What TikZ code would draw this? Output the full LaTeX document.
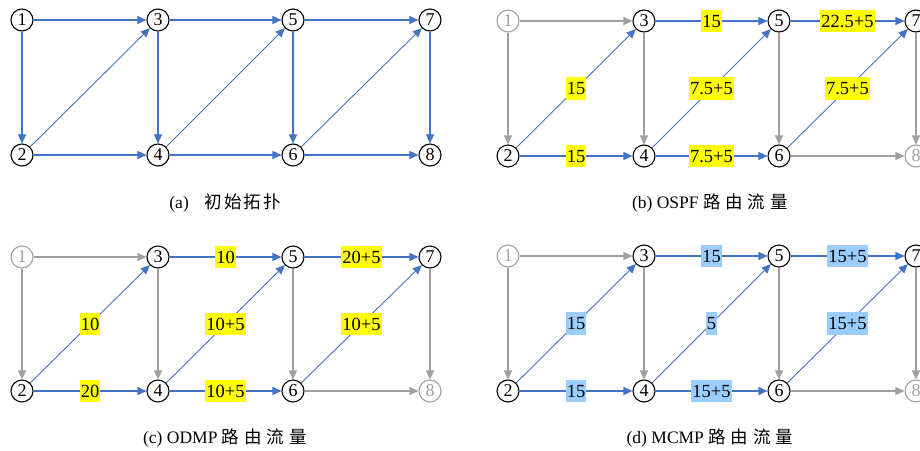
\documentclass[tikz,border=0pt]{standalone}
\usepackage{fontspec}
\setmainfont{Liberation Serif}
\newfontfamily\cjk{Noto Sans CJK SC}
\usetikzlibrary{arrows.meta}
\definecolor{eblue}{RGB}{68,114,196}
\definecolor{egray}{RGB}{160,160,160}
\definecolor{yel}{RGB}{255,255,0}
\definecolor{lblue}{RGB}{153,204,255}
\tikzset{
  nd/.style={circle,draw=black,line width=1.1pt,minimum size=22pt,inner sep=0pt,fill=white,font=\fontsize{18}{18}\selectfont},
  ndoff/.style={nd,draw=egray,text=egray},
  hv/.style={line width=1.3pt,-{Triangle[length=9pt,width=8pt]}},
  dg/.style={line width=0.9pt,-{Triangle[length=9pt,width=8pt]}},
  eon/.style={draw=eblue},
  eoff/.style={draw=egray},
  ylab/.style={fill=yel,inner xsep=1.2pt,inner ysep=5pt,text height=12.5pt,text depth=0pt,font=\fontsize{18.5}{19}\selectfont},
  blab/.style={ylab,fill=lblue},
  captext/.style={font=\fontsize{17.5}{20}\selectfont,inner sep=0pt}
}
\begin{document}
\begin{tikzpicture}[x=1pt,y=-1pt]
\useasboundingbox (0,0) rectangle (920,450);
\fill[white] (0,0) rectangle (920,450);
% ---------- (a)
\begin{scope}
\node[nd] (a1) at (22,20) {1};
\node[nd] (a2) at (22,155) {2};
\node[nd] (a3) at (158,20) {3};
\node[nd] (a4) at (158,155) {4};
\node[nd] (a5) at (293,20) {5};
\node[nd] (a6) at (293,155) {6};
\node[nd] (a7) at (430,20) {7};
\node[nd] (a8) at (430,155) {8};
\draw[hv,eon] (a1) -- (a3);
\draw[hv,eon] (a3) -- (a5);
\draw[hv,eon] (a5) -- (a7);
\draw[hv,eon] (a2) -- (a4);
\draw[hv,eon] (a4) -- (a6);
\draw[hv,eon] (a6) -- (a8);
\draw[hv,eon] (a1) -- (a2);
\draw[hv,eon] (a3) -- (a4);
\draw[hv,eon] (a5) -- (a6);
\draw[hv,eon] (a7) -- (a8);
\draw[dg,eon] (a2) -- (a3);
\draw[dg,eon] (a4) -- (a5);
\draw[dg,eon] (a6) -- (a7);
\node[captext] (capa) at (225,203) {(a)\hspace{0.9em}{\cjk 初\kern2pt 始\kern2pt 拓\kern2pt 扑}};
\end{scope}
% ---------- (b)
\begin{scope}[shift={(486,1)}]
\node[ndoff] (b1) at (22,20) {1};
\node[nd] (b2) at (22,155) {2};
\node[nd] (b3) at (158,20) {3};
\node[nd] (b4) at (158,155) {4};
\node[nd] (b5) at (293,20) {5};
\node[nd] (b6) at (293,155) {6};
\node[nd] (b7) at (430,20) {7};
\node[ndoff] (b8) at (430,155) {8};
\draw[hv,eoff] (b1) -- (b3);
\draw[hv,eon] (b3) -- node[ylab]{15} (b5);
\draw[hv,eon] (b5) -- node[ylab]{22.5+5} (b7);
\draw[hv,eon] (b2) -- node[ylab]{15} (b4);
\draw[hv,eon] (b4) -- node[ylab]{7.5+5} (b6);
\draw[hv,eoff] (b6) -- (b8);
\draw[hv,eoff] (b1) -- (b2);
\draw[hv,eoff] (b3) -- (b4);
\draw[hv,eoff] (b5) -- (b6);
\draw[hv,eoff] (b7) -- (b8);
\draw[dg,eon] (b2) -- node[ylab]{15} (b3);
\draw[dg,eon] (b4) -- node[ylab]{7.5+5} (b5);
\draw[dg,eon] (b6) -- node[ylab]{7.5+5} (b7);
\node[captext] (capb) at (224,202) {(b) OSPF {\cjk 路\kern5pt 由\kern5pt 流\kern5pt 量}};
\end{scope}
% ---------- (c)
\begin{scope}[shift={(0,237)}]
\node[ndoff] (c1) at (22,20) {1};
\node[nd] (c2) at (22,154) {2};
\node[nd] (c3) at (158,20) {3};
\node[nd] (c4) at (158,154) {4};
\node[nd] (c5) at (293,20) {5};
\node[nd] (c6) at (293,154) {6};
\node[nd] (c7) at (430,20) {7};
\node[ndoff] (c8) at (430,154) {8};
\draw[hv,eoff] (c1) -- (c3);
\draw[hv,eon] (c3) -- node[ylab]{10} (c5);
\draw[hv,eon] (c5) -- node[ylab]{20+5} (c7);
\draw[hv,eon] (c2) -- node[ylab]{20} (c4);
\draw[hv,eon] (c4) -- node[ylab]{10+5} (c6);
\draw[hv,eoff] (c6) -- (c8);
\draw[hv,eoff] (c1) -- (c2);
\draw[hv,eoff] (c3) -- (c4);
\draw[hv,eoff] (c5) -- (c6);
\draw[hv,eoff] (c7) -- (c8);
\draw[dg,eon] (c2) -- node[ylab]{10} (c3);
\draw[dg,eon] (c4) -- node[ylab]{10+5} (c5);
\draw[dg,eon] (c6) -- node[ylab]{10+5} (c7);
\node[captext] (capc) at (225,201) {(c) ODMP {\cjk 路\kern5pt 由\kern5pt 流\kern5pt 量}};
\end{scope}
% ---------- (d)
\begin{scope}[shift={(486,236)}]
\node[ndoff] (d1) at (22,20) {1};
\node[nd] (d2) at (22,155) {2};
\node[nd] (d3) at (158,20) {3};
\node[nd] (d4) at (158,155) {4};
\node[nd] (d5) at (293,20) {5};
\node[nd] (d6) at (293,155) {6};
\node[nd] (d7) at (430,20) {7};
\node[ndoff] (d8) at (430,155) {8};
\draw[hv,eoff] (d1) -- (d3);
\draw[hv,eon] (d3) -- node[blab]{15} (d5);
\draw[hv,eon] (d5) -- node[blab]{15+5} (d7);
\draw[hv,eon] (d2) -- node[blab]{15} (d4);
\draw[hv,eon] (d4) -- node[blab]{15+5} (d6);
\draw[hv,eoff] (d6) -- (d8);
\draw[hv,eoff] (d1) -- (d2);
\draw[hv,eoff] (d3) -- (d4);
\draw[hv,eoff] (d5) -- (d6);
\draw[hv,eoff] (d7) -- (d8);
\draw[dg,eon] (d2) -- node[blab]{15} (d3);
\draw[dg,eon] (d4) -- node[blab]{5} (d5);
\draw[dg,eon] (d6) -- node[blab]{15+5} (d7);
\node[captext] (capd) at (224,202) {(d) MCMP {\cjk 路\kern5pt 由\kern5pt 流\kern5pt 量}};
\end{scope}
\end{tikzpicture}
\end{document}
